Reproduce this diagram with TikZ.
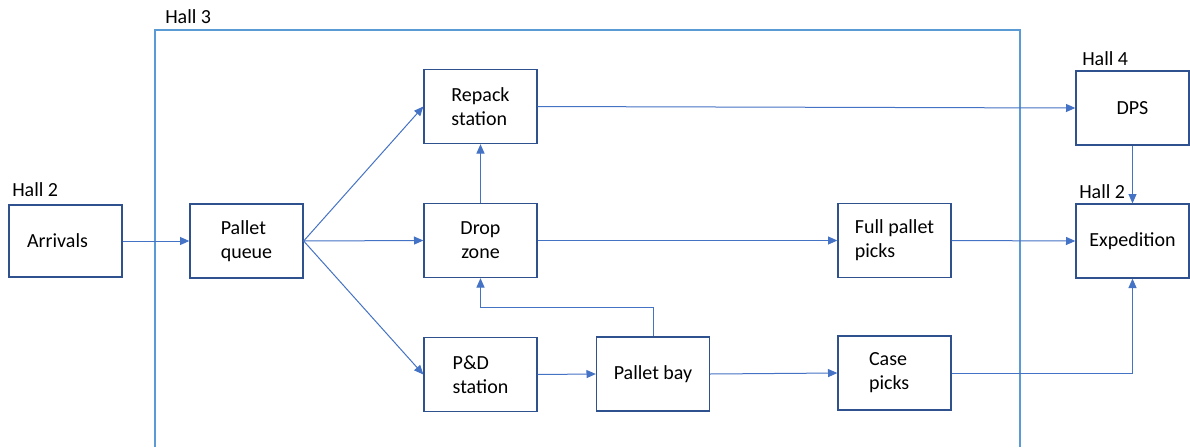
\documentclass[tikz,border=0pt]{standalone}
\usepackage{fontspec}
\setmainfont{Carlito}
\usetikzlibrary{arrows.meta}
\definecolor{boxblue}{HTML}{2F528F}
\definecolor{flowblue}{HTML}{4472C4}
\definecolor{hallblue}{HTML}{5B9BD5}
\begin{document}
\begin{tikzpicture}[x=0.75pt,y=-0.75pt,
  box/.style={draw=boxblue, line width=1pt, minimum width=84.75pt,
    minimum height=55.5pt, inner sep=0pt, align=left,
    font=\fontsize{15}{18}\selectfont},
  flow/.style={draw=flowblue, line width=0.75pt,
    -{Triangle[length=7pt,width=6pt]}},
  hall/.style={anchor=west, inner sep=0pt, font=\fontsize{15}{18}\selectfont},
  wall/.style={draw=hallblue, line width=1.1pt}
]
\useasboundingbox (0,0) rectangle (1190,447);

% Hall 3 enclosure (open towards the bottom)
\draw[wall] (155,447) -- (155,30) -- (1020,30) -- (1020,447);

% stations
\node[box, minimum height=54pt] (arr) at (65.5,241) {Arrivals\hspace*{12pt}};
\node[box] (pq)  at (246.5,241)   {Pallet\\queue};
\node[box] (rep) at (480.5,106.5) {\hfil Repack\hfil\\station};
\node[box] (dz)  at (480.5,240.5) {\hfil Drop\hfil\\\hfil zone\hfil};
\node[box] (pd)  at (480.5,374.5) {P\&D\\station};
\node[box] (pb)  at (653,374)     {Pallet bay};
\node[box] (fp)  at (894.5,240.5) {Full pallet\\picks};
\node[box] (cp)  at (894.5,373)   {Case\\picks\hspace*{8pt}};
\node[box] (dps) at (1132.5,108)  {DPS};
\node[box] (exp) at (1132.5,241)  {Expedition};

% hall labels
\node[hall] (h2a) at (12,190)   {Hall 2};
\node[hall] (h3)  at (165,17)   {Hall 3};
\node[hall] (h4)  at (1082,59)  {Hall 4};
\node[hall] (h2b) at (1079,192) {Hall 2};

% flows
\draw[flow] (arr.east) -- (pq.west);
\draw[flow] (pq.east) -- (rep.west);
\draw[flow] (pq.east) -- (dz.west);
\draw[flow] (pq.east) -- (pd.west);
\draw[flow] (dz.north) -- (rep.south);
\draw[flow] (rep.east) -- (dps.west);
\draw[flow] (dz.east) -- (fp.west);
\draw[flow] (fp.east) -- (exp.west);
\draw[flow] (dps.south) -- (exp.north);
\draw[flow] (pd.east) -- (pb.west);
\draw[flow] (pb.north) -- ++(0,-29) -| (dz.south);
\draw[flow] (pb.east) -- (cp.west);
\draw[flow] (cp.east) -| (exp.south);
\end{tikzpicture}
\end{document}
